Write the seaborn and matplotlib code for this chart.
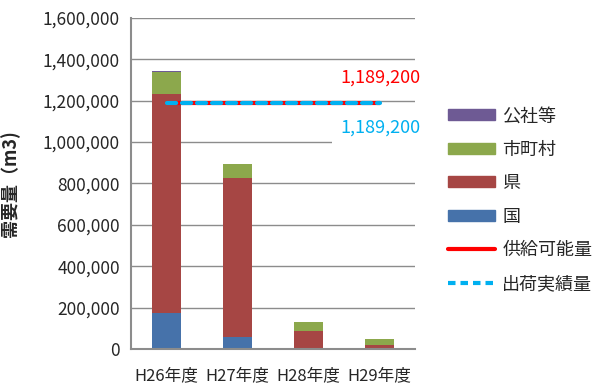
import numpy as np
import pandas as pd
import matplotlib
matplotlib.use("Agg")
import matplotlib.pyplot as plt
import matplotlib.patches as mpatches
from matplotlib.lines import Line2D
from matplotlib.ticker import FuncFormatter, FixedLocator
import seaborn as sns

# ── data ─────────────────────────────────────────────────────────────────────
years = ["H26年度", "H27年度", "H28年度", "H29年度"]
kuni = [174000, 57000, 0, 0]            # 国
ken = [1057000, 769000, 88000, 21000]   # 県
shichoson = [109000, 68000, 42000, 26000]  # 市町村
kosha = [5000, 0, 0, 0]                 # 公社等
supply = [1189200, 1189200, 1189200, 1189200]   # 供給可能量
shipped = [1189200, 1189200, 1189200, 1189200]  # 出荷実績量

yticks = [0, 200000, 400000, 600000, 800000, 1000000, 1200000, 1400000, 1600000]

COLORS = {
    "公社等": "#6E5A94",
    "市町村": "#8CA84C",
    "県": "#A64644",
    "国": "#4672AA",
}
RED = "#FF0000"
CYAN = "#00B0F0"
GRID = "#8C8C8C"

# ── style ────────────────────────────────────────────────────────────────────
sns.set_style("white")
plt.rcParams["font.family"] = ["Noto Sans CJK JP", "DejaVu Sans"]
plt.rcParams["font.size"] = 12

df = pd.DataFrame({"year": years, "国": kuni, "県": ken,
                   "市町村": shichoson, "公社等": kosha})
# cumulative tops, drawn tallest first so lower layers sit on top
df["c_kuni"] = df["国"]
df["c_ken"] = df["c_kuni"] + df["県"]
df["c_shi"] = df["c_ken"] + df["市町村"]
df["c_kosha"] = df["c_shi"] + df["公社等"]

fig = plt.figure(figsize=(6.01, 3.85), dpi=100)
ax = fig.add_axes([131 / 601, 1 - 349 / 385, 284 / 601, 331 / 385])

for col, name in [("c_kosha", "公社等"), ("c_shi", "市町村"),
                  ("c_ken", "県"), ("c_kuni", "国")]:
    sns.barplot(data=df, x="year", y=col, color=COLORS[name], width=0.41,
                saturation=1, ax=ax, edgecolor="none", linewidth=0)

xs = np.arange(len(years))
ax.plot(xs, supply, color=RED, lw=3, solid_capstyle="butt", zorder=5)
ax.plot(xs, shipped, color=CYAN, lw=3, dashes=(2.2, 1.4),
        dash_capstyle="round", zorder=6)

ax.annotate(f"{supply[-1]:,}", xy=(xs[-1], supply[-1]), xytext=(-39, 25),
            textcoords="offset pixels", color=RED, fontsize=13,
            va="center", ha="left", annotation_clip=False)
ax.annotate(f"{shipped[-1]:,}", xy=(xs[-1], shipped[-1]), xytext=(-39, -25),
            textcoords="offset pixels", color=CYAN, fontsize=13,
            va="center", ha="left", annotation_clip=False,
            bbox=dict(boxstyle="square,pad=0.45", fc="white", ec="none"))

# axes
ax.set_xlim(-0.5, len(years) - 0.5)
ax.set_ylim(0, 1600000)
ax.yaxis.set_major_locator(FixedLocator(yticks))
ax.yaxis.set_major_formatter(FuncFormatter(lambda v, p: f"{int(v):,}"))
ax.yaxis.grid(True, color=GRID, lw=1)
ax.set_axisbelow(True)

ax.xaxis.set_minor_locator(FixedLocator(np.arange(-0.5, len(years), 1.0)))
ax.tick_params(axis="x", which="major", length=0, pad=13, labelsize=12)
ax.tick_params(axis="x", which="minor", length=5, color=GRID, width=1)
ax.tick_params(axis="y", which="major", length=5, color=GRID, width=1,
               labelsize=12.5, pad=3)

for s in ["top", "right"]:
    ax.spines[s].set_visible(False)
ax.spines["left"].set_color(GRID)
ax.spines["left"].set_linewidth(1.5)
ax.spines["bottom"].set_color(GRID)
ax.spines["bottom"].set_linewidth(1.5)

ax.set_xlabel("")
ax.set_ylabel("需要量（m3)", fontsize=13, fontweight="bold")
ax.yaxis.set_label_coords(-0.39, 0.5)

# legend
handles = [mpatches.Patch(color=COLORS[k], label=k)
           for k in ["公社等", "市町村", "県", "国"]]
handles += [Line2D([], [], color=RED, lw=3, label="供給可能量"),
            Line2D([], [], color=CYAN, lw=3, dashes=(1.8, 1.2),
                   label="出荷実績量")]
fig.legend(handles=handles, loc="upper left",
           bbox_to_anchor=(432 / 601, 1 - 91 / 385), frameon=False,
           fontsize=13, handlelength=2.6, handleheight=0.55,
           labelspacing=0.86, handletextpad=0.4)

fig.savefig("out.png", dpi=100)
